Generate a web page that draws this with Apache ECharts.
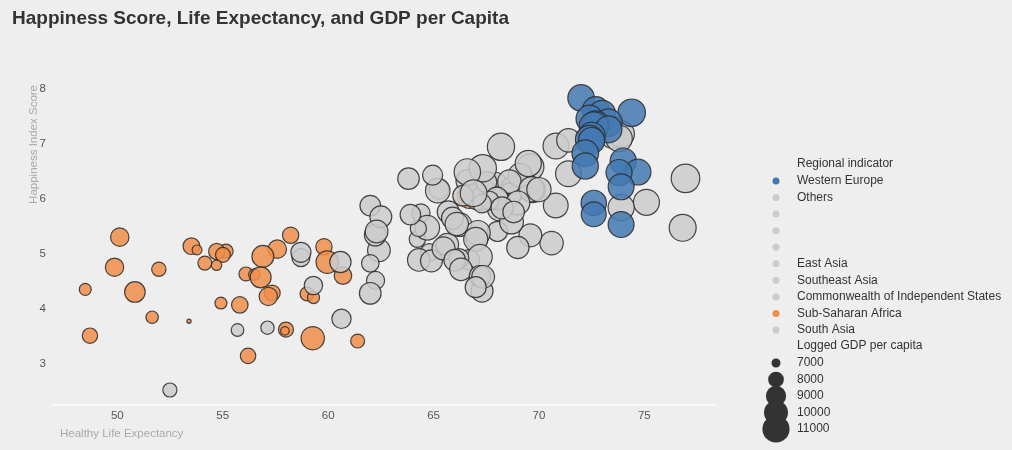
<!DOCTYPE html>
<html>
<head>
<meta charset="utf-8">
<title>Happiness Score, Life Expectancy, and GDP per Capita</title>
<script src="https://cdn.jsdelivr.net/npm/echarts@6/dist/echarts.min.js"></script>
<style>
  html, body { margin: 0; padding: 0; background: #eeeeee; }
  #chart { width: 1012px; height: 450px; }
</style>
</head>
<body>
<div id="chart"></div>
<script>
// regions in legend order
const regions = ['Western Europe', 'North America and ANZ', 'Middle East and North Africa',
  'Latin America and Caribbean', 'Central and Eastern Europe', 'East Asia', 'Southeast Asia',
  'Commonwealth of Independent States', 'Sub-Saharan Africa', 'South Asia']
const regionLabels = ['Western Europe', 'Others', ' ', ' ', ' ', 'East Asia', 'Southeast Asia',
  'Commonwealth of Independent States', 'Sub-Saharan Africa', 'South Asia']
const regionColors = ['#4379b2', '#cccccc', '#cccccc', '#cccccc', '#cccccc', '#cccccc', '#cccccc',
  '#cccccc', '#f08f4c', '#cccccc']

const countries = ['Finland', 'Denmark', 'Switzerland', 'Iceland', 'Netherlands', 'Norway', 'Sweden', 'Luxembourg',
  'New Zealand', 'Austria', 'Australia', 'Israel', 'Germany', 'Canada', 'Ireland', 'Costa Rica', 'United Kingdom',
  'Czech Republic', 'United States', 'Belgium', 'France', 'Bahrain', 'Malta', 'Taiwan Province of China',
  'United Arab Emirates', 'Saudi Arabia', 'Spain', 'Italy', 'Slovenia', 'Guatemala', 'Uruguay', 'Singapore',
  'Kosovo', 'Slovakia', 'Brazil', 'Mexico', 'Jamaica', 'Lithuania', 'Cyprus', 'Estonia', 'Panama', 'Uzbekistan',
  'Chile', 'Poland', 'Kazakhstan', 'Romania', 'Kuwait', 'Serbia', 'El Salvador', 'Mauritius', 'Latvia', 'Colombia',
  'Hungary', 'Thailand', 'Nicaragua', 'Japan', 'Argentina', 'Portugal', 'Honduras', 'Croatia', 'Philippines',
  'South Korea', 'Peru', 'Bosnia and Herzegovina', 'Moldova', 'Ecuador', 'Kyrgyzstan', 'Greece', 'Bolivia',
  'Mongolia', 'Paraguay', 'Montenegro', 'Dominican Republic', 'North Cyprus', 'Belarus', 'Russia',
  'Hong Kong S.A.R. of China', 'Tajikistan', 'Vietnam', 'Libya', 'Malaysia', 'Indonesia', 'Congo (Brazzaville)',
  'China', 'Ivory Coast', 'Armenia', 'Nepal', 'Bulgaria', 'Maldives', 'Azerbaijan', 'Cameroon', 'Senegal',
  'Albania', 'North Macedonia', 'Ghana', 'Niger', 'Turkmenistan', 'Gambia', 'Benin', 'Laos', 'Bangladesh',
  'Guinea', 'South Africa', 'Turkey', 'Pakistan', 'Morocco', 'Venezuela', 'Georgia', 'Algeria', 'Ukraine', 'Iraq',
  'Gabon', 'Burkina Faso', 'Cambodia', 'Mozambique', 'Nigeria', 'Mali', 'Iran', 'Uganda', 'Liberia', 'Kenya',
  'Tunisia', 'Lebanon', 'Namibia', 'Palestinian Territories', 'Myanmar', 'Jordan', 'Chad', 'Sri Lanka',
  'Swaziland', 'Comoros', 'Egypt', 'Ethiopia', 'Mauritania', 'Madagascar', 'Togo', 'Zambia', 'Sierra Leone',
  'India', 'Burundi', 'Yemen', 'Tanzania', 'Haiti', 'Malawi', 'Lesotho', 'Botswana', 'Rwanda', 'Zimbabwe',
  'Afghanistan']

// index into regions
const regionIdx = [0, 0, 0, 0, 0, 0, 0, 0, 1, 0, 1, 2, 0, 1, 0, 3, 0, 4, 1, 0, 0, 2, 0, 5, 2, 2, 0, 0, 4, 3, 3, 6,
  4, 4, 3, 3, 3, 4, 0, 4, 3, 7, 3, 4, 7, 4, 2, 4, 3, 8, 4, 3, 4, 6, 3, 5, 3, 0, 3, 4, 6, 5, 3, 4, 7, 3, 7, 0, 3,
  5, 3, 4, 3, 0, 7, 7, 5, 7, 6, 2, 6, 6, 8, 5, 8, 7, 9, 4, 9, 7, 8, 8, 4, 4, 8, 8, 7, 8, 8, 6, 9, 8, 8, 2, 9, 2,
  3, 7, 2, 7, 2, 8, 8, 6, 8, 8, 8, 2, 8, 8, 8, 2, 2, 8, 2, 6, 2, 8, 9, 8, 8, 2, 8, 8, 8, 8, 8, 8, 9, 8, 2, 8, 3,
  8, 8, 8, 8, 8, 9]

const lifeExp = [72.0, 72.7, 74.4, 73.0, 72.4, 73.3, 72.7, 72.6, 73.4, 73.3, 73.9, 73.503, 72.5, 73.8, 72.4, 71.4,
  72.5, 70.807, 68.2, 72.199, 74.0, 69.495, 72.2, 69.6, 67.333, 66.603, 74.7, 73.8, 71.4, 64.958, 69.1, 76.953,
  63.813, 69.201, 66.601, 68.597, 67.5, 67.906, 73.898, 68.8, 69.652, 65.255, 70.0, 69.702, 65.2, 67.355, 66.9,
  68.6, 66.402, 66.701, 67.1, 68.001, 68.0, 67.401, 67.657, 75.1, 69.0, 72.6, 67.3, 70.799, 62.0, 73.9, 68.25,
  68.098, 65.699, 68.8, 64.401, 72.6, 63.901, 62.5, 65.9, 68.699, 66.102, 73.898, 66.253, 64.703, 76.82, 64.281,
  68.034, 62.3, 67.102, 62.236, 58.221, 69.593, 50.114, 67.055, 64.233, 67.0, 70.6, 65.656, 53.515, 59.802, 68.999,
  65.474, 57.586, 53.78, 62.409, 55.16, 54.713, 58.709, 64.8, 55.008, 56.904, 67.199, 58.709, 66.208, 66.7, 64.3,
  66.005, 64.902, 60.583, 59.962, 54.151, 62.0, 54.706, 49.866, 51.969, 66.3, 56.101, 56.498, 60.704, 67.201,
  67.355, 56.799, 62.25, 59.302, 67.0, 48.478, 67.299, 50.833, 57.349, 61.998, 59.0, 57.161, 59.305, 54.914,
  55.809, 51.651, 60.633, 53.4, 57.122, 57.999, 55.7, 57.948, 48.7, 59.269, 61.4, 56.201, 52.493]

const happiness = [7.842, 7.620, 7.571, 7.554, 7.464, 7.392, 7.363, 7.324, 7.277, 7.268, 7.183, 7.157, 7.155, 7.103,
  7.085, 7.069, 7.064, 6.965, 6.951, 6.834, 6.690, 6.647, 6.602, 6.584, 6.561, 6.494, 6.491, 6.483, 6.461, 6.435,
  6.431, 6.377, 6.372, 6.331, 6.330, 6.317, 6.309, 6.255, 6.223, 6.189, 6.180, 6.179, 6.172, 6.166, 6.152, 6.140,
  6.106, 6.078, 6.061, 6.049, 6.032, 6.012, 5.992, 5.985, 5.972, 5.940, 5.929, 5.929, 5.919, 5.882, 5.880, 5.845,
  5.840, 5.813, 5.766, 5.764, 5.744, 5.723, 5.716, 5.677, 5.653, 5.581, 5.545, 5.536, 5.534, 5.477, 5.477, 5.466,
  5.411, 5.410, 5.384, 5.345, 5.342, 5.339, 5.306, 5.283, 5.269, 5.266, 5.198, 5.171, 5.142, 5.132, 5.117, 5.101,
  5.088, 5.074, 5.066, 5.051, 5.045, 5.030, 5.025, 4.984, 4.956, 4.948, 4.934, 4.918, 4.892, 4.891, 4.887, 4.875,
  4.854, 4.852, 4.834, 4.830, 4.794, 4.759, 4.723, 4.721, 4.636, 4.625, 4.607, 4.596, 4.584, 4.574, 4.517, 4.426,
  4.395, 4.355, 4.325, 4.308, 4.289, 4.283, 4.275, 4.227, 4.208, 4.107, 4.073, 3.849, 3.819, 3.775, 3.658, 3.623,
  3.615, 3.600, 3.512, 3.467, 3.415, 3.145, 2.523]

// logged GDP per capita, as labelled in the size legend
const gdp = [10775, 10933, 11117, 10878, 10932, 11053, 10867, 11647, 10643, 10906, 10796, 10575, 10873, 10776, 11342,
  9880, 10707, 10556, 11023, 10823, 10704, 10669, 10674, 10871, 11085, 10743, 10571, 10623, 10529, 8924, 9966, 11488,
  9318, 10369, 9577, 9859, 9186, 10499, 10576, 10481, 10350, 8836, 10071, 10382, 10155, 10284, 10817, 9787, 9054,
  10008, 10315, 9557, 10358, 9805, 8620, 10611, 9962, 10421, 8648, 10217, 9076, 10651, 9458, 9590, 9454, 9313, 8538,
  10279, 9046, 9400, 9448, 9940, 9802, 10576, 9853, 10189, 10935, 8091, 8973, 9622, 10238, 9365, 8117, 9673, 8551,
  9487, 8120, 10016, 9826, 9569, 8189, 8118, 9520, 9693, 8580, 7098, 9629, 7686, 8087, 8947, 8454, 7838, 9403, 10240,
  8458, 8903, 9073, 9585, 9342, 9436, 9240, 9603, 7678, 8360, 7158, 8533, 7744, 9584, 7677, 7288, 8361, 9266, 9626,
  9161, 8485, 8541, 9182, 7364, 9470, 9065, 8031, 9367, 7694, 8542, 7396, 7362, 8145, 7434, 8755, 6635, 7578, 7876,
  7477, 6958, 7926, 9782, 7676, 7943, 7695]

const sizeTicks = [7000, 8000, 9000, 10000, 11000]

const FONT = '"Liberation Sans", Arial, sans-serif'

// circle diameter for a GDP value (area grows with the value)
function bubbleSize(v) {
  return 0.40 * Math.sqrt(Math.max(v - 6550, 0)) + 0.5
}

function pointsOf(ri) {
  const pts = []
  for (let i = 0; i < countries.length; i++) {
    if (regionIdx[i] === ri) {
      pts.push({ name: countries[i], value: [lifeExp[i], happiness[i], gdp[i]] })
    }
  }
  return pts
}

const chart = echarts.init(document.getElementById('chart'))

// first legend entry is drawn on top, so add series in reverse
const regionSeries = regions.map((r, ri) => ({
  name: r,
  type: 'scatter',
  data: pointsOf(ri),
  symbolSize: (val) => bubbleSize(val[2]),
  itemStyle: {
    color: regionColors[ri],
    opacity: 0.86,
    borderColor: '#2b2b2b',
    borderWidth: 1.2
  },
  emphasis: { scale: false }
})).reverse()

const sizeSeries = sizeTicks.map(v => ({
  name: String(v),
  type: 'scatter',
  data: [],
  itemStyle: { color: '#333333' }
}))

const legendText = { fontFamily: FONT, fontSize: 12, color: '#333', lineHeight: 14 }

// icon centres sit on x = 776, labels start at x = 797
const sizeLegends = sizeTicks.map((v, i) => {
  const d = bubbleSize(v)
  return {
    orient: 'vertical',
    left: 776 - d / 2,
    top: 363 + i * 16.5 - Math.max(d, 14) / 2,
    padding: 0,
    itemWidth: 32,
    itemHeight: d,
    icon: 'circle',
    selectedMode: false,
    data: [String(v)],
    itemStyle: { borderWidth: 0, opacity: 1 },
    textStyle: legendText
  }
})

const option = {
  backgroundColor: '#eeeeee',
  textStyle: { fontFamily: FONT },
  title: [
    {
      text: 'Happiness Score, Life Expectancy, and GDP per Capita',
      left: 12,
      top: 8,
      padding: 0,
      textStyle: { fontFamily: FONT, fontSize: 19, fontWeight: 'bold', color: '#333', lineHeight: 22 }
    },
    {
      text: 'Regional indicator',
      left: 797,
      top: 157,
      padding: 0,
      textStyle: { fontFamily: FONT, fontSize: 12, fontWeight: 'normal', color: '#333', lineHeight: 14 }
    },
    {
      text: 'Logged GDP per capita',
      left: 797,
      top: 339,
      padding: 0,
      textStyle: { fontFamily: FONT, fontSize: 12, fontWeight: 'normal', color: '#333', lineHeight: 14 }
    }
  ],
  tooltip: {
    trigger: 'item',
    formatter: (p) => p.name + '<br/>Healthy Life Expectancy: ' + p.value[0] +
      '<br/>Happiness Index Score: ' + p.value[1] + '<br/>Logged GDP per capita: ' + p.value[2]
  },
  legend: [
    {
      orient: 'vertical',
      left: 772.5,
      top: 174,
      padding: 0,
      itemWidth: 32,
      itemHeight: 7,
      itemGap: 2.55,
      icon: 'circle',
      data: regions,
      formatter: (name) => regionLabels[regions.indexOf(name)],
      itemStyle: { borderWidth: 0, opacity: 1 },
      textStyle: legendText
    }
  ].concat(sizeLegends),
  grid: {
    left: 52,
    right: 296,
    top: 70,
    bottom: 45
  },
  xAxis: {
    type: 'value',
    min: 46.9,
    max: 78.4,
    name: 'Healthy Life Expectancy',
    nameLocation: 'start',
    nameGap: -8,
    nameMoveOverlap: false,
    nameTextStyle: {
      fontFamily: FONT, fontSize: 11.5, color: '#aaaaaa',
      align: 'left', verticalAlign: 'top', padding: [23, 0, 0, 0]
    },
    axisLine: { show: true, lineStyle: { color: '#f8f8f8', width: 2 } },
    axisTick: { show: false },
    splitLine: { show: false },
    axisLabel: {
      fontFamily: FONT, fontSize: 11.5, color: '#555', margin: 5,
      showMinLabel: false, showMaxLabel: false
    }
  },
  yAxis: {
    type: 'value',
    min: 2.25,
    max: 8.35,
    name: 'Happiness Index Score',
    nameLocation: 'end',
    nameRotate: 90,
    nameGap: -15,
    nameMoveOverlap: false,
    nameTextStyle: {
      fontFamily: FONT, fontSize: 11.5, color: '#aaaaaa',
      align: 'right', verticalAlign: 'bottom', padding: [0, 0, 12, 0]
    },
    axisLine: { show: false },
    axisTick: { show: false },
    splitLine: { show: false },
    axisLabel: {
      fontFamily: FONT, fontSize: 11.5, color: '#555', margin: 6,
      showMinLabel: false, showMaxLabel: false
    }
  },
  series: regionSeries.concat(sizeSeries)
}

chart.setOption(option)

window.addEventListener('resize', () => chart.resize())
</script>
</body>
</html>
